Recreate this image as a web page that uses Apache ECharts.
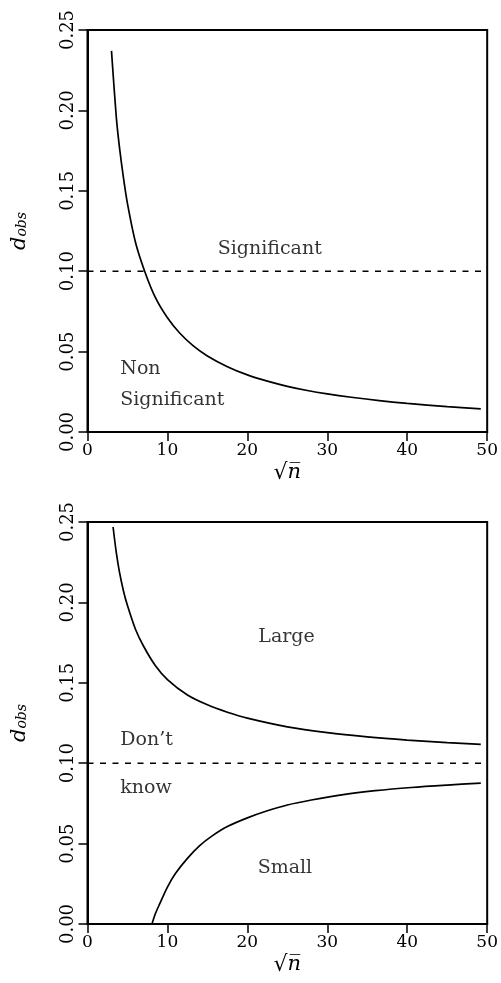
<!DOCTYPE html>
<html>
<head>
<meta charset="utf-8">
<script src="https://cdn.jsdelivr.net/npm/echarts@6/dist/echarts.min.js"></script>
<style>
  html, body { margin: 0; padding: 0; background: #fff; }
  #chart { width: 501px; height: 983px; }
</style>
</head>
<body>
<div id="chart"></div>
<script>
// curve values, [sqrt(n), d_obs]
const sigCurve = [
  [3.0, 0.237], [3.6, 0.196], [4.0, 0.177], [4.5, 0.158], [5.0, 0.142],
  [6.0, 0.118], [7.15, 0.100], [8.5, 0.0835], [10.0, 0.0710], [11.5, 0.0617],
  [13.2, 0.0537], [15.0, 0.0473], [17.5, 0.0406], [20.0, 0.0355], [22.5, 0.0316],
  [25.0, 0.0284], [27.5, 0.0258], [30.0, 0.0237], [33.0, 0.0216], [36.5, 0.0195],
  [40.0, 0.0178], [45.0, 0.0158], [49.2, 0.0144]
];
const largeCurve = [
  [3.2, 0.2469], [3.6, 0.2311], [4.0, 0.2188], [4.5, 0.2071], [5.0, 0.1980],
  [6.0, 0.1833], [7.0, 0.1729], [8.5, 0.1606], [10.0, 0.1520], [12.5, 0.1424],
  [15.0, 0.1363], [17.5, 0.1317], [20.0, 0.1280], [25.0, 0.1226], [30.0, 0.1190],
  [35.0, 0.1164], [40.0, 0.1144], [45.0, 0.1128], [49.2, 0.1117]
];
const smallCurve = [
  [8.06, 0.0], [8.5, 0.0065], [9.0, 0.0122], [10.0, 0.0230], [11.0, 0.0314],
  [12.5, 0.0408], [14.0, 0.0486], [15.6, 0.0548], [17.5, 0.0606], [20.0, 0.0660],
  [22.5, 0.0704], [25.0, 0.0740], [28.0, 0.0771], [32.0, 0.0805], [36.0, 0.0829],
  [40.5, 0.0849], [45.0, 0.0864], [49.2, 0.0876]
];
const threshold = [[0, 0.1], [50, 0.1]];

// region notes, [x, y, text]
const topCenterNotes = [[22.8, 0.114, 'Significant']];
const topLeftNotes = [[4.1, 0.039, 'Non'], [4.1, 0.0199, 'Significant']];
const botCenterNotes = [[24.9, 0.1787, 'Large'], [24.7, 0.0346, 'Small']];
const botLeftNotes = [[4.1, 0.1144, 'Don\u2019t'], [4.1, 0.0844, 'know']];

const xMin = 0, xMax = 50, xStep = 10;
const yMin = 0, yMax = 0.25, yStep = 0.05;

const FONT = 'DejaVu Serif';
const INK = '#000';

function xAxisFor(gridIndex) {
  return {
    type: 'value', gridIndex: gridIndex,
    min: xMin, max: xMax, interval: xStep,
    name: '{r|\u221A}{i|n\u0305}',
    nameLocation: 'middle', nameGap: 30,
    nameTextStyle: {
      rich: {
        r: { fontFamily: FONT, fontSize: 22, color: INK },
        i: { fontFamily: FONT, fontStyle: 'italic', fontSize: 21, color: INK }
      }
    },
    axisLine: { lineStyle: { color: INK, width: 2 } },
    axisTick: { length: 9, lineStyle: { color: INK, width: 1.5 } },
    axisLabel: { color: INK, fontFamily: FONT, fontSize: 17, margin: 10, showMaxLabel: true, showMinLabel: true },
    splitLine: { show: false }
  };
}

function yAxisFor(gridIndex) {
  return {
    type: 'value', gridIndex: gridIndex,
    min: yMin, max: yMax, interval: yStep,
    name: '{d|d}{s|obs}',
    nameLocation: 'middle', nameGap: 52,
    nameTextStyle: {
      rich: {
        d: { fontFamily: FONT, fontStyle: 'italic', fontSize: 21, color: INK, padding: [0, 0, 5, 0] },
        s: { fontFamily: FONT, fontStyle: 'italic', fontSize: 14, color: INK }
      }
    },
    axisLine: { lineStyle: { color: INK, width: 2 } },
    axisTick: { length: 9, lineStyle: { color: INK, width: 1.5 } },
    axisLabel: {
      color: INK, fontFamily: FONT, fontSize: 18, margin: 10, rotate: 90,
      formatter: v => v.toFixed(2)
    },
    splitLine: { show: false }
  };
}

function curve(data, i) {
  return {
    type: 'line', xAxisIndex: i, yAxisIndex: i, data: data,
    showSymbol: false, smooth: 0.3, silent: true,
    lineStyle: { color: INK, width: 1.7 }
  };
}

function dashed(i) {
  return {
    type: 'line', xAxisIndex: i, yAxisIndex: i, data: threshold,
    showSymbol: false, silent: true,
    lineStyle: { color: INK, width: 1.5, type: [6, 6.5] }
  };
}

function notes(data, i, align) {
  return {
    type: 'scatter', xAxisIndex: i, yAxisIndex: i, symbolSize: 0, silent: true,
    data: data.map(d => ({ value: [d[0], d[1]], name: d[2] })),
    label: {
      show: true, position: 'inside', align: align, verticalAlign: 'middle',
      formatter: p => p.name,
      color: INK, fontFamily: FONT, fontSize: 19
    }
  };
}

const chart = echarts.init(document.getElementById('chart'));
const option = {
  backgroundColor: '#fff',
  animation: false,
  grid: [
    { left: 87.5, right: 11.5, top: 30, height: 402, show: true, borderColor: INK, borderWidth: 2 },
    { left: 87.5, right: 11.5, top: 522, height: 402, show: true, borderColor: INK, borderWidth: 2 }
  ],
  xAxis: [xAxisFor(0), xAxisFor(1)],
  yAxis: [yAxisFor(0), yAxisFor(1)],
  series: [
    curve(sigCurve, 0),
    dashed(0),
    notes(topCenterNotes, 0, 'center'),
    notes(topLeftNotes, 0, 'left'),
    curve(largeCurve, 1),
    curve(smallCurve, 1),
    dashed(1),
    notes(botCenterNotes, 1, 'center'),
    notes(botLeftNotes, 1, 'left')
  ]
};
chart.setOption(option);
</script>
</body>
</html>
